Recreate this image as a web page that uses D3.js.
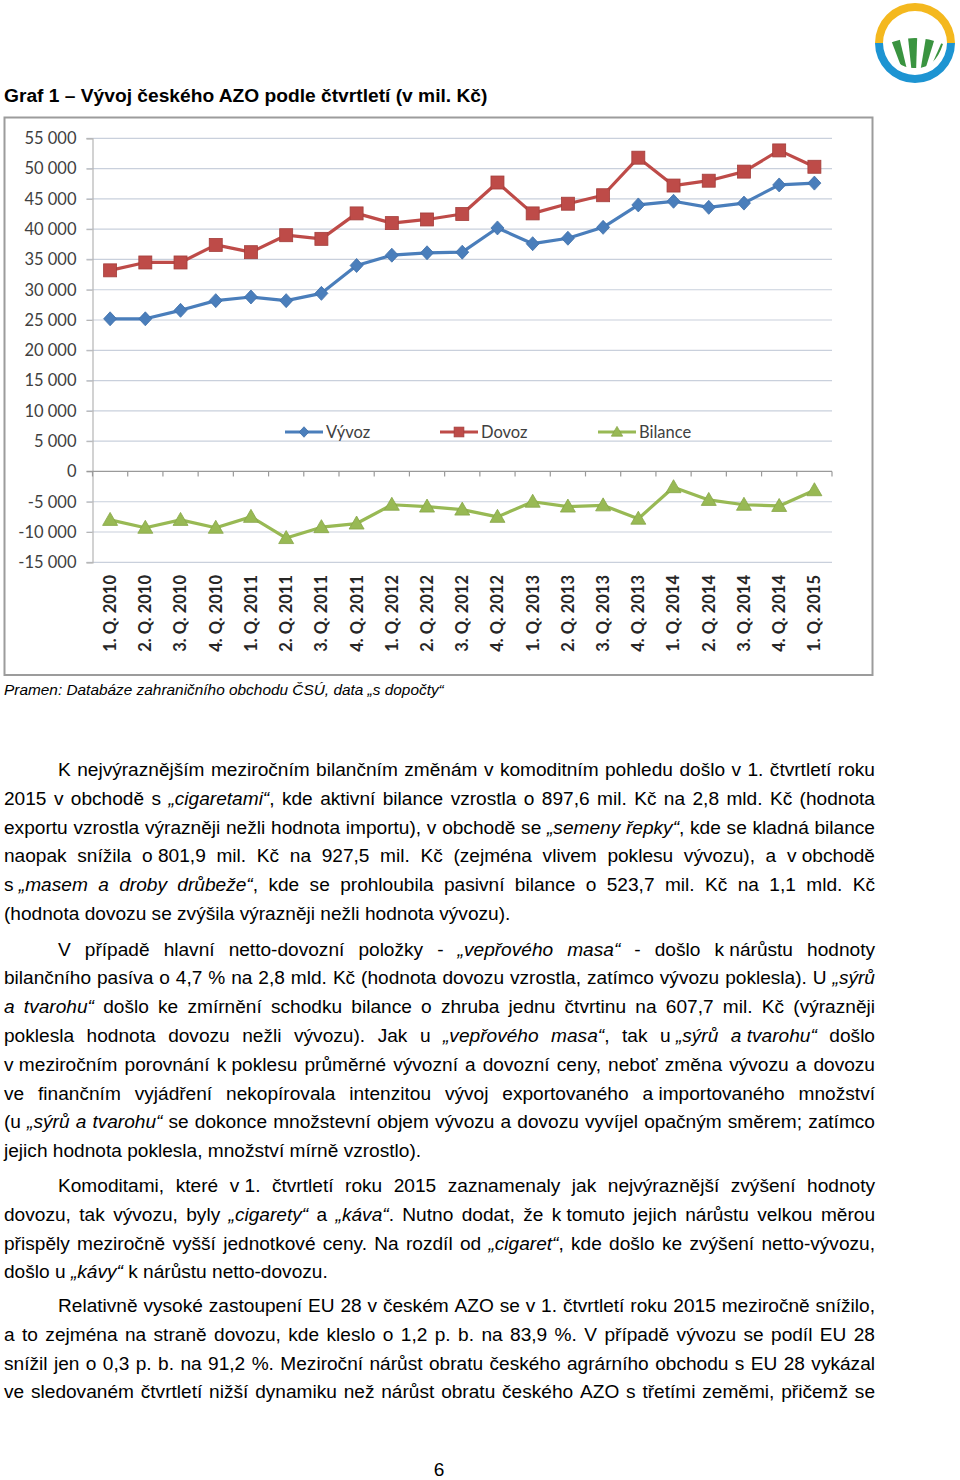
<!DOCTYPE html>
<html><head><meta charset="utf-8">
<script src="https://cdn.jsdelivr.net/npm/d3@7"></script>
<style>body{margin:0;background:#fff} svg{display:block}</style>
</head><body>
<svg id="page" width="960" height="1480"></svg>
<script>
// ---------- DATA ----------
const quarters = ["1. Q. 2010","2. Q. 2010","3. Q. 2010","4. Q. 2010",
  "1. Q. 2011","2. Q. 2011","3. Q. 2011","4. Q. 2011",
  "1. Q. 2012","2. Q. 2012","3. Q. 2012","4. Q. 2012",
  "1. Q. 2013","2. Q. 2013","3. Q. 2013","4. Q. 2013",
  "1. Q. 2014","2. Q. 2014","3. Q. 2014","4. Q. 2014","1. Q. 2015"];
const vyvoz   = [25200,25200,26600,28200,28800,28200,29400,34000,35700,36100,36200,40200,37600,38500,40300,44000,44600,43600,44300,47300,47600];
const dovoz   = [33200,34500,34500,37400,36200,39000,38400,42600,41000,41600,42500,47700,42600,44200,45600,51800,47200,48000,49500,53000,50300];
const bilance = [-8000,-9300,-8000,-9300,-7500,-11000,-9200,-8600,-5500,-5800,-6300,-7500,-5000,-5800,-5600,-7800,-2600,-4700,-5500,-5700,-3100];
const yTicks  = [-15000,-10000,-5000,0,5000,10000,15000,20000,25000,30000,35000,40000,45000,50000,55000];
const seriesNames = ["Vývoz","Dovoz","Bilance"];

const titleText = "Graf 1 – Vývoj českého AZO podle čtvrtletí (v mil. Kč)";
const sourceText = "Pramen: Databáze zahraničního obchodu ČSÚ, data „s dopočty“";
const para1 = [
 "K nejvýraznějším meziročním bilančním změnám v komoditním pohledu došlo v 1. čtvrtletí roku",
 "2015 v obchodě s *„cigaretami“*, kde aktivní bilance vzrostla o 897,6 mil. Kč na 2,8 mld. Kč (hodnota",
 "exportu vzrostla výrazněji nežli hodnota importu), v obchodě se *„semeny řepky“*, kde se kladná bilance",
 "naopak snížila o\u00a0801,9 mil. Kč na 927,5 mil. Kč (zejména vlivem poklesu vývozu), a v\u00a0obchodě",
 "s\u00a0*„masem a droby drůbeže“*, kde se prohloubila pasivní bilance o 523,7 mil. Kč na 1,1 mld. Kč",
 "(hodnota dovozu se zvýšila výrazněji nežli hodnota vývozu)."
];
const para2 = [
 "V případě hlavní netto-dovozní položky - *„vepřového masa“* - došlo k\u00a0nárůstu hodnoty",
 "bilančního pasíva o 4,7 % na 2,8 mld. Kč (hodnota dovozu vzrostla, zatímco vývozu poklesla). U *„sýrů*",
 "*a tvarohu“* došlo ke zmírnění schodku bilance o zhruba jednu čtvrtinu na 607,7 mil. Kč (výrazněji",
 "poklesla hodnota dovozu nežli vývozu). Jak u *„vepřového masa“*, tak u\u00a0*„sýrů a\u00a0tvarohu“* došlo",
 "v\u00a0meziročním porovnání k\u00a0poklesu průměrné vývozní a dovozní ceny, neboť změna vývozu a dovozu",
 "ve finančním vyjádření nekopírovala intenzitou vývoj exportovaného a\u00a0importovaného množství",
 "(u *„sýrů a tvarohu“* se dokonce množstevní objem vývozu a dovozu vyvíjel opačným směrem; zatímco",
 "jejich hodnota poklesla, množství mírně vzrostlo)."
];
const para3 = [
 "Komoditami, které v\u00a01. čtvrtletí roku 2015 zaznamenaly jak nejvýraznější zvýšení hodnoty",
 "dovozu, tak vývozu, byly *„cigarety“* a *„káva“*. Nutno dodat, že k\u00a0tomuto jejich nárůstu velkou měrou",
 "přispěly meziročně vyšší jednotkové ceny. Na rozdíl od *„cigaret“*, kde došlo ke zvýšení netto-vývozu,",
 "došlo u *„kávy“* k nárůstu netto-dovozu."
];
const para4 = [
 "Relativně vysoké zastoupení EU 28 v českém AZO se v 1. čtvrtletí roku 2015 meziročně snížilo,",
 "a to zejména na straně dovozu, kde kleslo o 1,2 p. b. na 83,9 %. V případě vývozu se podíl EU 28",
 "snížil jen o 0,3 p. b. na 91,2 %. Meziroční nárůst obratu českého agrárního obchodu s EU 28 vykázal",
 "ve sledovaném čtvrtletí nižší dynamiku než nárůst obratu českého AZO s třetími zeměmi, přičemž se"
];
const pageNumber = "6";

// ---------- DRAW ----------
const svg = d3.select("#page");
const bodyFont = "'Liberation Sans', Arial, sans-serif";
const chartFont = "Lato, 'Open Sans', sans-serif";

// logo
(function(){
  const cx = 915, cy = 43;
  const g = svg.append("g");
  const arc = d3.arc().innerRadius(32).outerRadius(40);
  g.append("path").attr("transform",`translate(${cx},${cy})`)
    .attr("d", arc({startAngle:-Math.PI/2, endAngle:Math.PI/2})).attr("fill","#f4b81e");
  g.append("path").attr("transform",`translate(${cx},${cy})`)
    .attr("d", arc({startAngle:Math.PI/2, endAngle:3*Math.PI/2})).attr("fill","#1d94d2");
  const defs = svg.append("defs");
  defs.append("clipPath").attr("id","logoField").append("path")
    .attr("d",`M${cx-28},${cy+1} Q${cx},${cy-11} ${cx+28},${cy+1} Q${cx+20},${cy+26} ${cx},${cy+25} Q${cx-20},${cy+26} ${cx-28},${cy+1} Z`);
  const f = g.append("g").attr("clip-path","url(#logoField)");
  const vx = cx, vy = cy + 60;
  for (let k = 0; k < 9; k++) {
    const xa = cx - 36 + k*8.2, xb = xa + 4.2;
    const ty = cy - 20;
    const t = (ty - vy) / (cy + 30 - vy);
    const ax = vx + (xa - vx) * t;
    const bx = vx + (xb - vx) * t;
    f.append("path").attr("d",`M${vx},${vy} L${ax},${ty} L${bx},${ty} Z`).attr("fill","#3a9440");
  }
})();

// title
svg.append("text").attr("x",4).attr("y",102).attr("font-family",bodyFont)
  .attr("font-weight","bold").attr("font-size",19.2).attr("fill","#000").text(titleText);

// chart frame
svg.append("rect").attr("x",4.5).attr("y",117.5).attr("width",868).attr("height",557.5)
  .attr("fill","#fff").attr("stroke","#9c9c9c").attr("stroke-width",2);

const plotL = 92.5, plotR = 832, yTop = 138.3, yBot = 562.3;
const x = d3.scalePoint().domain(quarters).range([plotL, plotR]).padding(0.5);
const y = d3.scaleLinear().domain([d3.min(yTicks), d3.max(yTicks)]).range([yBot, yTop]);
const fmt = d3.formatLocale({decimal:",", thousands:" ", grouping:[3], currency:["",""], minus:"-"}).format(",d");

// gridlines
svg.append("g").selectAll("line").data(yTicks.filter(d => d !== 0)).join("line")
  .attr("x1", plotL - 6).attr("x2", plotR)
  .attr("y1", d => y(d)).attr("y2", d => y(d))
  .attr("stroke","#c9d0dc").attr("stroke-width",1.2);

// y axis
const yAxis = svg.append("g").attr("transform",`translate(${plotL},0)`)
  .call(d3.axisLeft(y).tickValues(yTicks).tickFormat(fmt).tickSize(6).tickPadding(10));
yAxis.select(".domain").attr("stroke","#b5b5b5").attr("stroke-width",1.2);
yAxis.selectAll(".tick line").attr("stroke","#b5b5b5");
yAxis.selectAll("text").attr("font-family",chartFont).attr("font-size",16.5).attr("fill","#404040");

// category axis at 0
const y0 = y(0);
svg.append("line").attr("x1",plotL-6).attr("x2",plotR).attr("y1",y0).attr("y2",y0)
  .attr("stroke","#9a9a9a").attr("stroke-width",1.2);
const step = x.step();
svg.append("g").selectAll("line").data(d3.range(quarters.length + 1)).join("line")
  .attr("x1", k => plotL + k*step).attr("x2", k => plotL + k*step)
  .attr("y1", y0).attr("y2", y0 + 5).attr("stroke","#9a9a9a").attr("stroke-width",1.2);

// x labels (low position)
svg.append("g").selectAll("text").data(quarters).join("text")
  .attr("transform", d => `translate(${x(d)},575) rotate(-90)`)
  .attr("text-anchor","end").attr("dy","0.36em")
  .attr("font-family",chartFont).attr("font-weight","bold").attr("font-size",16.5).attr("fill","#262626")
  .text(d => d);

// series
const colors = {"Vývoz":"#4a7ebb","Dovoz":"#be4b48","Bilance":"#98b954"};
const strokes = {"Vývoz":"#3f6fa8","Dovoz":"#a33e3b","Bilance":"#86a648"};
const series = [{name:"Vývoz", values:vyvoz},{name:"Dovoz", values:dovoz},{name:"Bilance", values:bilance}];
const line = d3.line().x((d,i) => x(quarters[i])).y(d => y(d));

function marker(g, name, cx, cy, s) {
  s = s || 1;
  if (name === "Vývoz") {
    g.append("path").attr("d",`M${cx},${cy-7*s}L${cx+6.5*s},${cy}L${cx},${cy+7*s}L${cx-6.5*s},${cy}Z`)
      .attr("fill",colors[name]).attr("stroke",strokes[name]).attr("stroke-width",0.8);
  } else if (name === "Dovoz") {
    g.append("rect").attr("x",cx-6.5*s).attr("y",cy-6.5*s).attr("width",13*s).attr("height",13*s)
      .attr("fill",colors[name]).attr("stroke",strokes[name]).attr("stroke-width",0.8);
  } else {
    g.append("path").attr("d",`M${cx},${cy-7.5*s}L${cx+7.5*s},${cy+5.5*s}L${cx-7.5*s},${cy+5.5*s}Z`)
      .attr("fill",colors[name]).attr("stroke",strokes[name]).attr("stroke-width",0.8);
  }
}

series.forEach(s => {
  svg.append("path").attr("d", line(s.values)).attr("fill","none")
    .attr("stroke", colors[s.name]).attr("stroke-width",3.2).attr("stroke-linejoin","round");
  const mg = svg.append("g");
  s.values.forEach((v,i) => marker(mg, s.name, x(quarters[i]), y(v)));
});

// legend
const legendPos = [285, 440, 598];
const legY = 432;
seriesNames.forEach((n,i) => {
  const g = svg.append("g");
  const lx = legendPos[i];
  g.append("line").attr("x1",lx).attr("x2",lx+38).attr("y1",legY).attr("y2",legY)
    .attr("stroke",colors[n]).attr("stroke-width",3.2);
  marker(g, n, lx+19, legY, 0.75);
  g.append("text").attr("x",lx+41).attr("y",legY).attr("dy","0.35em")
    .attr("font-family",chartFont).attr("font-size",16.5).attr("fill","#404040").text(n);
});

// source
svg.append("text").attr("x",4).attr("y",695).attr("font-family",bodyFont)
  .attr("font-style","italic").attr("font-size",15.4).attr("fill","#000").text(sourceText);

// justified body text
const textL = 4, textR = 875, indentX = 58, lineH = 28.8, fs = 19.1;
function renderLine(str, x0, x1, yb, justify) {
  let it = false; const chars = [];
  for (const ch of str) { if (ch === "*") { it = !it; continue; } chars.push({ch, it}); }
  const words = []; let cur = [];
  chars.forEach(c => { if (c.ch === " ") { if (cur.length) words.push(cur); cur = []; } else cur.push(c); });
  if (cur.length) words.push(cur);
  const g = svg.append("g").attr("font-family",bodyFont).attr("font-size",fs).attr("fill","#000");
  const nodes = words.map(w => {
    const t = g.append("text").attr("y", yb);
    let run = null;
    w.forEach(c => {
      if (!run || run.it !== c.it) { run = {it:c.it, s:""}; run.node = t.append("tspan").attr("font-style", c.it ? "italic" : "normal"); }
      run.s += c.ch; run.node.text(run.s);
    });
    return {t, w: t.node().getComputedTextLength()};
  });
  const spaceW = fs * 0.278;
  const total = d3.sum(nodes, n => n.w);
  let gap = spaceW;
  if (justify && nodes.length > 1) gap = Math.max(spaceW*0.6, (x1 - x0 - total) / (nodes.length - 1));
  let cx = x0;
  nodes.forEach(n => { n.t.attr("x", cx); cx += n.w + gap; });
}
function renderPara(lines, yStart, lastJustified) {
  lines.forEach((l,i) => {
    const last = i === lines.length - 1;
    renderLine(l, i === 0 ? indentX : textL, textR, yStart + i*lineH, !last || lastJustified);
  });
}
renderPara(para1, 776, false);
renderPara(para2, 955.5, false);
renderPara(para3, 1192, false);
renderPara(para4, 1312, true);

svg.append("text").attr("x",439).attr("y",1476).attr("text-anchor","middle")
  .attr("font-family",bodyFont).attr("font-size",fs).attr("fill","#000").text(pageNumber);
</script>
</body></html>
